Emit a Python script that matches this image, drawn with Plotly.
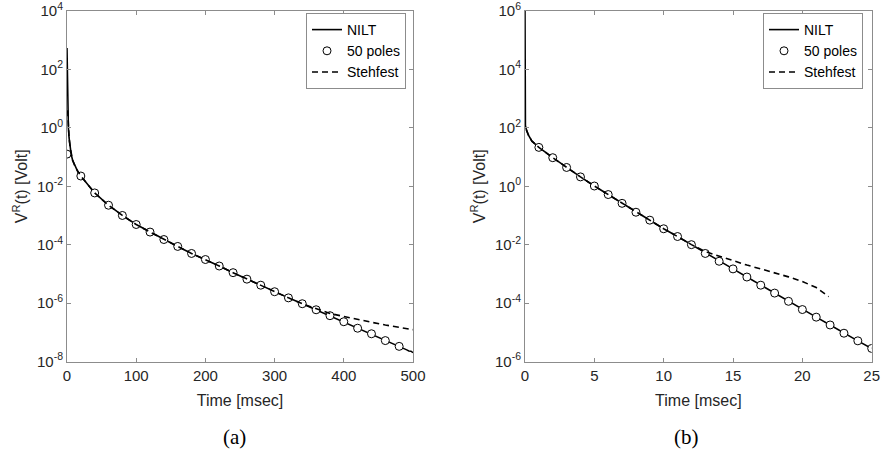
import plotly.graph_objects as go

# ---------------- data: panel (a) ----------------
nilt_a_t = [0, 0.5, 1, 2, 3, 4.5, 6, 8, 12, 16, 20,
            40, 60, 80, 100, 120, 140, 160, 180, 200, 220, 240, 260, 280, 300,
            320, 340, 360, 380, 400, 420, 440, 460, 480, 488, 491, 494, 497, 500]
nilt_a_v = [5.4e2, 2.0e1, 4.0, 1.0, 4.5e-1, 2.2e-1, 1.26e-1, 7.9e-2, 4.5e-2, 3.0e-2, 2.24e-2,
            5.9e-3, 2.24e-3, 1.0e-3, 4.9e-4, 2.7e-4, 1.5e-4, 8.7e-5, 5.0e-5, 3.1e-5, 1.86e-5,
            1.10e-5, 6.6e-6, 4.1e-6, 2.45e-6, 1.51e-6, 9.5e-7, 5.9e-7, 3.7e-7, 2.3e-7, 1.38e-7,
            8.9e-8, 5.2e-8, 3.3e-8, 2.7e-8, 2.5e-8, 2.3e-8, 2.25e-8, 2.0e-8]

poles_a_t = [0, 20, 40, 60, 80, 100, 120, 140, 160, 180, 200, 220, 240,
             260, 280, 300, 320, 340, 360, 380, 400, 420, 440, 460, 480]
poles_a_v = [1.26e-1, 2.24e-2, 5.9e-3, 2.24e-3, 1.0e-3, 4.9e-4, 2.7e-4, 1.5e-4, 8.7e-5,
             5.0e-5, 3.1e-5, 1.86e-5, 1.10e-5, 6.6e-6, 4.1e-6, 2.45e-6, 1.51e-6, 9.5e-7,
             5.9e-7, 3.7e-7, 2.3e-7, 1.38e-7, 8.9e-8, 5.2e-8, 3.3e-8]

steh_a_t = [1, 2, 3, 4.5, 6, 8, 12, 16, 20, 40, 60, 80, 100, 120, 140, 160, 180, 200,
            220, 240, 260, 280, 300, 320, 340, 360, 380, 400, 420, 440, 460, 480, 500]
steh_a_v = [4.0, 1.0, 4.5e-1, 2.2e-1, 1.26e-1, 7.9e-2, 4.5e-2, 3.0e-2, 2.24e-2, 5.9e-3,
            2.24e-3, 1.0e-3, 4.9e-4, 2.7e-4, 1.5e-4, 8.7e-5, 5.0e-5, 3.1e-5, 1.86e-5,
            1.10e-5, 6.6e-6, 4.1e-6, 2.45e-6, 1.51e-6, 9.5e-7, 6.3e-7, 4.4e-7, 3.5e-7,
            2.7e-7, 2.2e-7, 1.78e-7, 1.48e-7, 1.23e-7]

# ---------------- data: panel (b) ----------------
nilt_b_t = [0, 0.005, 0.03, 0.1, 0.25, 0.5, 1, 2, 3, 4, 5, 6, 7, 8, 9, 10, 11, 12, 13,
            14, 15, 16, 17, 18, 19, 20, 21, 22, 23, 24, 25]
nilt_b_v = [1.0e6, 3.2e2, 1.2e2, 8.5e1, 5.6e1, 3.5e1, 2.14e1, 9.5, 4.4, 2.09, 1.02,
            5.2e-1, 2.6e-1, 1.29e-1, 6.9e-2, 3.5e-2, 1.9e-2, 1.0e-2, 5.0e-3, 2.7e-3,
            1.48e-3, 7.8e-4, 4.1e-4, 2.2e-4, 1.15e-4, 6.0e-5, 3.3e-5, 1.78e-5, 9.3e-6,
            5.1e-6, 2.8e-6]

poles_b_t = [1, 2, 3, 4, 5, 6, 7, 8, 9, 10, 11, 12, 13, 14, 15, 16, 17, 18, 19, 20,
             21, 22, 23, 24, 25]
poles_b_v = [2.14e1, 9.5, 4.4, 2.09, 1.02, 5.2e-1, 2.6e-1, 1.29e-1, 6.9e-2, 3.5e-2,
             1.9e-2, 1.0e-2, 5.0e-3, 2.7e-3, 1.48e-3, 7.8e-4, 4.1e-4, 2.2e-4, 1.15e-4,
             6.0e-5, 3.3e-5, 1.78e-5, 9.3e-6, 5.1e-6, 2.8e-6]

steh_b_t = [0.1, 0.25, 0.5, 1, 2, 3, 4, 5, 6, 7, 8, 9, 10, 11, 12, 13, 14, 15, 16, 17,
            18, 19, 20, 21, 21.9]
steh_b_v = [8.5e1, 5.6e1, 3.5e1, 2.14e1, 9.5, 4.4, 2.09, 1.02, 5.2e-1, 2.6e-1, 1.29e-1,
            6.9e-2, 3.5e-2, 1.9e-2, 1.0e-2, 5.8e-3, 4.0e-3, 2.75e-3, 2.0e-3, 1.48e-3,
            1.1e-3, 7.9e-4, 5.5e-4, 3.4e-4, 1.66e-4]

# ticks
xticks_a = [0, 100, 200, 300, 400, 500]
xticks_b = [0, 5, 10, 15, 20, 25]
yexp_a = [4, 2, 0, -2, -4, -6, -8]
yexp_b = [6, 4, 2, 0, -2, -4, -6]

FONT = "Liberation Sans, Arial, sans-serif"
SERIF = "Liberation Serif, Times New Roman, serif"
TXT = "#262626"
AX = "#8c8c8c"

fig = go.Figure()


def add_panel(xa, ya, legend, nt, nv, pt, pv, st, sv):
    fig.add_trace(go.Scatter(x=nt, y=nv, mode="lines", name="NILT",
                             line=dict(color="black", width=1.6),
                             xaxis=xa, yaxis=ya, legend=legend))
    fig.add_trace(go.Scatter(x=pt, y=pv, mode="markers", name="50 poles",
                             marker=dict(symbol="circle", size=8, color="white",
                                         line=dict(color="black", width=1)),
                             xaxis=xa, yaxis=ya, legend=legend))
    fig.add_trace(go.Scatter(x=st, y=sv, mode="lines", name="Stehfest",
                             line=dict(color="black", width=1.6, dash="6px,4px"),
                             xaxis=xa, yaxis=ya, legend=legend))


add_panel("x", "y", "legend", nilt_a_t, nilt_a_v, poles_a_t, poles_a_v, steh_a_t, steh_a_v)
add_panel("x2", "y2", "legend2", nilt_b_t, nilt_b_v, poles_b_t, poles_b_v, steh_b_t, steh_b_v)

W, H = 882, 450
ytop = 1 - 11 / H
ybot = 1 - 361.5 / H


def xaxis(dom, rng, ticks, anchor):
    return dict(domain=dom, range=rng, tickvals=ticks, ticktext=[str(t) for t in ticks],
                anchor=anchor, showline=True, linecolor=AX, linewidth=1, mirror="ticks",
                ticks="inside", ticklen=4, tickcolor=AX, showgrid=False, zeroline=False,
                automargin=False, ticklabeloverflow="allow",
                tickfont=dict(family=FONT, size=15, color=TXT),
                title=dict(text="Time [msec]", font=dict(family=FONT, size=16, color=TXT),
                           standoff=12))


def yaxis(exps, anchor):
    return dict(domain=[ybot, ytop], type="log", range=[exps[-1], exps[0]],
                tickvals=[10 ** e for e in exps],
                ticktext=["10<sup>%d</sup>" % e for e in exps],
                anchor=anchor, showline=True, linecolor=AX, linewidth=1, mirror="ticks",
                ticks="inside", ticklen=4, tickcolor=AX, showgrid=False, zeroline=False,
                automargin=False, ticklabeloverflow="allow",
                tickfont=dict(family=FONT, size=15, color=TXT),
                title=dict(text="V<sup>R</sup>(t) [Volt]",
                           font=dict(family=FONT, size=16, color=TXT), standoff=5))


def legend_cfg(xr):
    return dict(x=xr, y=1 - 13 / H, xanchor="right", yanchor="top",
                bgcolor="white", bordercolor=AX, borderwidth=1,
                font=dict(family=FONT, size=14, color="black"),
                tracegroupgap=0, itemwidth=30)


fig.update_layout(
    template="none",
    width=W, height=H,
    margin=dict(l=0, r=0, t=0, b=0, autoexpand=False),
    paper_bgcolor="white", plot_bgcolor="white",
    showlegend=True,
    xaxis=xaxis([67 / W, 413 / W], [0, 500], xticks_a, "y"),
    yaxis=yaxis(yexp_a, "x"),
    xaxis2=xaxis([525 / W, 871.7 / W], [0, 25], xticks_b, "y2"),
    yaxis2=yaxis(yexp_b, "x2"),
    legend=legend_cfg(406 / W),
    legend2=legend_cfg(863 / W),
    annotations=[
        dict(text="(a)", x=234 / W, y=1 - 437 / H, xref="paper", yref="paper",
             xanchor="center", yanchor="middle", showarrow=False,
             font=dict(family=SERIF, size=21, color="black")),
        dict(text="(b)", x=686 / W, y=1 - 437 / H, xref="paper", yref="paper",
             xanchor="center", yanchor="middle", showarrow=False,
             font=dict(family=SERIF, size=21, color="black")),
    ],
)

fig.write_html("out.html", config={"displayModeBar": False},
               post_script="document.body.style.margin='0px';document.body.style.overflow='hidden';")
